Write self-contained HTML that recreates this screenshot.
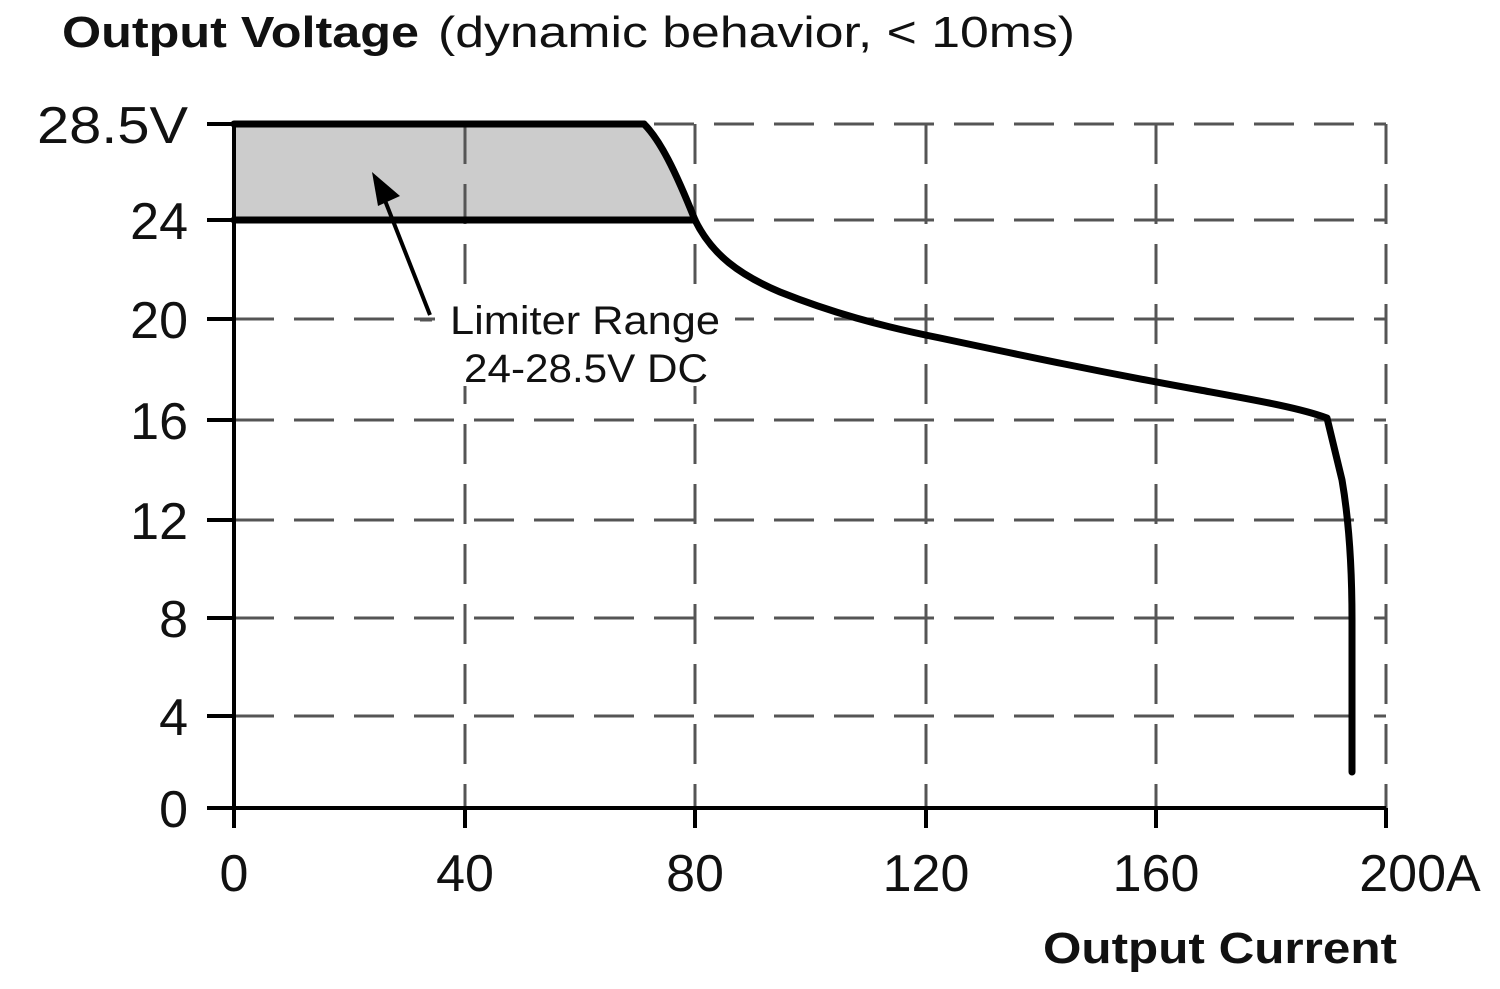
<!DOCTYPE html>
<html><head><meta charset="utf-8"><style>
html,body{margin:0;padding:0;background:#fff;}
svg{display:block;}
text{font-family:"Liberation Sans",sans-serif;fill:#111;}
</style></head><body>
<svg width="1500" height="989" viewBox="0 0 1500 989" xmlns="http://www.w3.org/2000/svg">
<text x="62" y="47" font-size="44" font-weight="bold" textLength="357" lengthAdjust="spacingAndGlyphs">Output Voltage</text>
<text x="438" y="47" font-size="44" textLength="637" lengthAdjust="spacingAndGlyphs">(dynamic behavior, &lt; 10ms)</text>
<path d="M234,124 L644,124 C660,140 675,170 695,220 L234,220 Z" fill="#cccccc"/>
<g stroke="#555" stroke-width="3" stroke-dasharray="40,20" fill="none">
<line x1="234" y1="124" x2="1386" y2="124"/>
<line x1="234" y1="220" x2="1386" y2="220"/>
<line x1="234" y1="319" x2="1386" y2="319"/>
<line x1="234" y1="420" x2="1386" y2="420"/>
<line x1="234" y1="520" x2="1386" y2="520"/>
<line x1="234" y1="618" x2="1386" y2="618"/>
<line x1="234" y1="716" x2="1386" y2="716"/>
<line x1="465" y1="124" x2="465" y2="808"/>
<line x1="695" y1="124" x2="695" y2="808"/>
<line x1="926" y1="124" x2="926" y2="808"/>
<line x1="1156" y1="124" x2="1156" y2="808"/>
<line x1="1386" y1="124" x2="1386" y2="808"/>
</g>
<rect x="435" y="296" width="300" height="90" fill="#fff"/>
<g stroke="#000" stroke-width="4" fill="none">
<line x1="234" y1="124" x2="234" y2="810"/>
<line x1="207" y1="808" x2="1386" y2="808"/>
<line x1="207" y1="124" x2="234" y2="124"/>
<line x1="207" y1="220" x2="234" y2="220"/>
<line x1="207" y1="319" x2="234" y2="319"/>
<line x1="207" y1="420" x2="234" y2="420"/>
<line x1="207" y1="520" x2="234" y2="520"/>
<line x1="207" y1="618" x2="234" y2="618"/>
<line x1="207" y1="716" x2="234" y2="716"/>
<line x1="234" y1="808" x2="234" y2="828"/>
<line x1="465" y1="808" x2="465" y2="828"/>
<line x1="695" y1="808" x2="695" y2="828"/>
<line x1="926" y1="808" x2="926" y2="828"/>
<line x1="1156" y1="808" x2="1156" y2="828"/>
<line x1="1386" y1="808" x2="1386" y2="828"/>
</g>
<g stroke="#000" stroke-width="7" fill="none" stroke-linejoin="round" stroke-linecap="round">
<line x1="234" y1="124" x2="644" y2="124"/>
<line x1="234" y1="220" x2="695" y2="220"/>
<path d="M644,124 C660,140 675,170 695,220 C712,255 740,275 780,292 C830,312 880,326 940,338 C1020,355 1100,372 1200,390 C1260,401 1300,408 1327,418 L1342,480 C1348,515 1352,560 1352,620 L1352,772"/>
</g>
<line x1="430" y1="315" x2="384" y2="198" stroke="#000" stroke-width="4"/>
<polygon points="372,172 400,196 378,206" fill="#000"/>
<line x1="420" y1="320" x2="432" y2="320" stroke="#555" stroke-width="3"/>
<text x="450" y="334" font-size="40" textLength="270" lengthAdjust="spacingAndGlyphs">Limiter Range</text>
<text x="464" y="382" font-size="40" textLength="244" lengthAdjust="spacingAndGlyphs">24-28.5V DC</text>
<g font-size="52" text-anchor="end">
<text x="188" y="143" textLength="151" lengthAdjust="spacingAndGlyphs">28.5V</text>
<text x="188" y="239">24</text>
<text x="188" y="338">20</text>
<text x="188" y="439">16</text>
<text x="188" y="539">12</text>
<text x="188" y="637">8</text>
<text x="188" y="735">4</text>
<text x="188" y="827">0</text>
</g>
<g font-size="52" text-anchor="middle">
<text x="234" y="891">0</text>
<text x="465" y="891">40</text>
<text x="695" y="891">80</text>
<text x="926" y="891">120</text>
<text x="1156" y="891">160</text>
<text x="1420" y="891">200A</text>
</g>
<text x="1043" y="963" font-size="44" font-weight="bold" textLength="354" lengthAdjust="spacingAndGlyphs">Output Current</text>
</svg>
</body></html>
